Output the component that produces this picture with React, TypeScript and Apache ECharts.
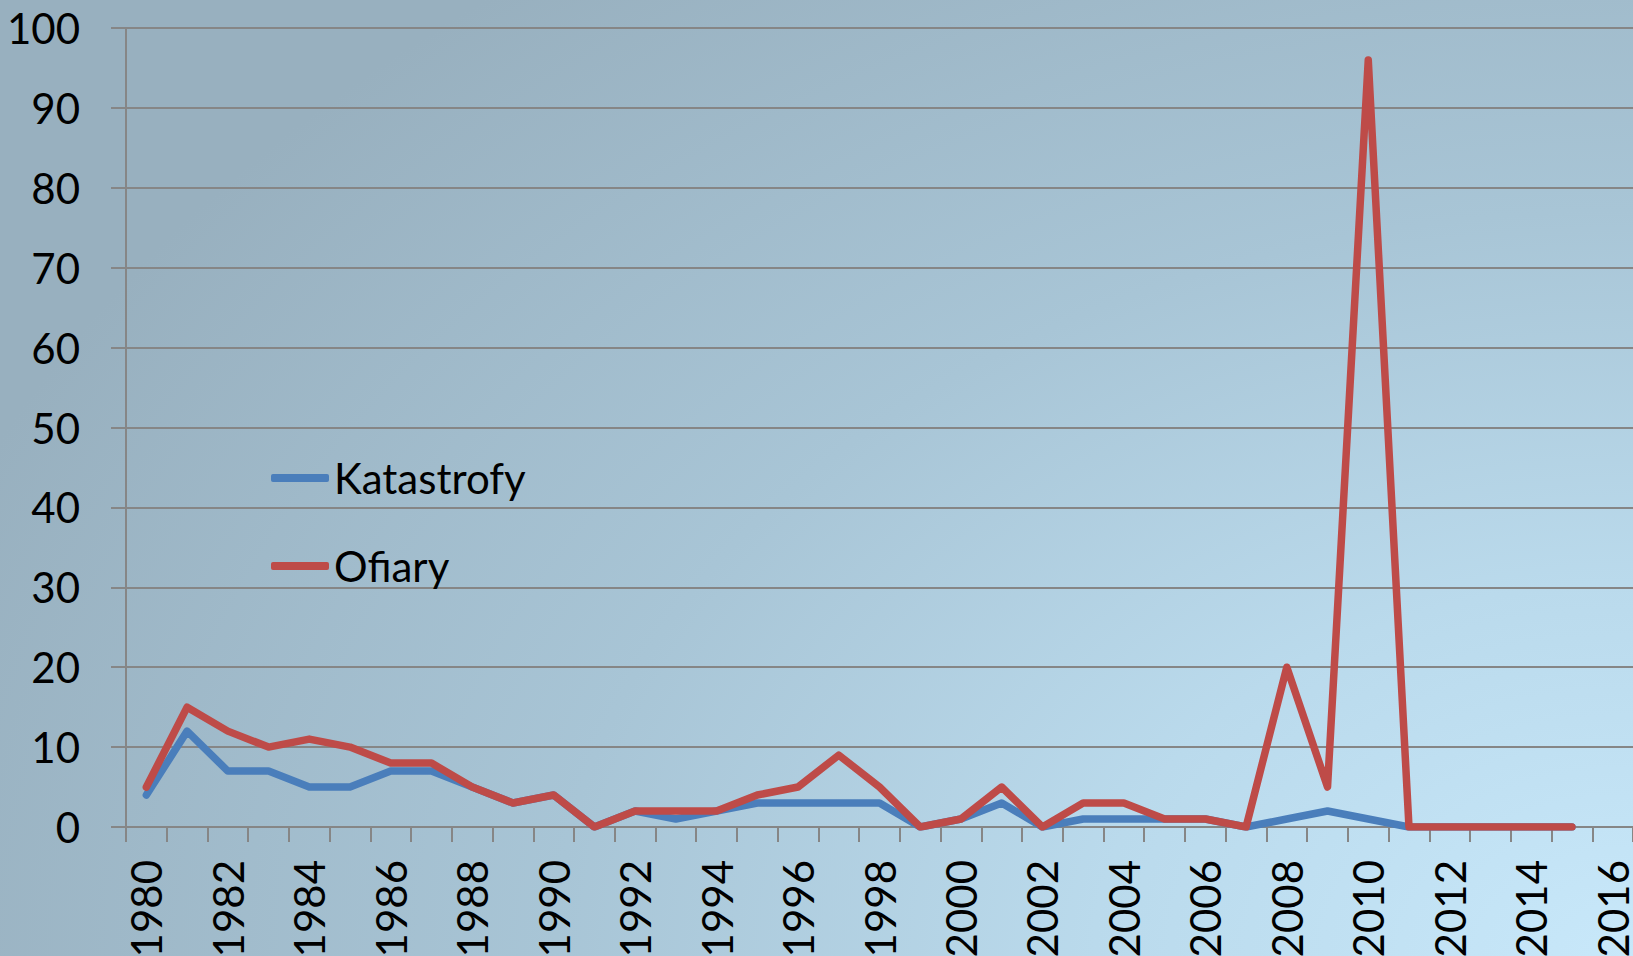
import React, { useEffect, useRef } from "react";
import * as echarts from "echarts";

const years: string[] = [
  "1980","1981","1982","1983","1984","1985","1986","1987","1988","1989",
  "1990","1991","1992","1993","1994","1995","1996","1997","1998","1999",
  "2000","2001","2002","2003","2004","2005","2006","2007","2008","2009",
  "2010","2011","2012","2013","2014","2015","2016",
];

const katastrofy: (number | null)[] = [
  4, 12, 7, 7, 5, 5, 7, 7, 5, 3,
  4, 0, 2, 1, 2, 3, 3, 3, 3, 0,
  1, 3, 0, 1, 1, 1, 1, 0, 1, 2,
  1, 0, 0, 0, 0, 0, null,
];

const ofiary: (number | null)[] = [
  5, 15, 12, 10, 11, 10, 8, 8, 5, 3,
  4, 0, 2, 2, 2, 4, 5, 9, 5, 0,
  1, 5, 0, 3, 3, 1, 1, 0, 20, 5,
  96, 0, 0, 0, 0, 0, null,
];

const FONT = "Lato, 'Open Sans', sans-serif";
const GRID_COLOR = "#868686";

export default function App() {
  const ref = useRef<HTMLDivElement>(null);

  useEffect(() => {
    if (!ref.current) return;
    const chart = echarts.init(ref.current, undefined, { renderer: "svg" });
    chart.setOption({
      animation: false,
      backgroundColor: "transparent",
      grid: {
        left: 126,
        top: 28,
        right: 0,
        bottom: 129,
        containLabel: false,
        outerBoundsMode: "none",
      },
      legend: {
        orient: "vertical",
        left: 266,
        top: 449,
        itemWidth: 58,
        itemHeight: 8,
        itemGap: 40,
        icon: "roundRect",
        textStyle: { fontFamily: FONT, fontSize: 42, color: "#000", lineHeight: 48 },
        data: ["Katastrofy", "Ofiary"],
      },
      xAxis: {
        type: "category",
        data: years,
        boundaryGap: true,
        axisLine: { show: true, lineStyle: { color: GRID_COLOR, width: 2 } },
        axisTick: { show: true, interval: 0, length: 15, lineStyle: { color: GRID_COLOR, width: 2 } },
        axisLabel: {
          interval: 1,
          rotate: 90,
          margin: 33,
          fontFamily: FONT,
          fontSize: 42,
          color: "#000",
        },
        splitLine: { show: false },
      },
      yAxis: {
        type: "value",
        min: 0,
        max: 100,
        interval: 10,
        axisLine: { show: true, lineStyle: { color: GRID_COLOR, width: 2 } },
        axisTick: { show: true, length: 15, lineStyle: { color: GRID_COLOR, width: 2 } },
        axisLabel: { margin: 46, fontFamily: FONT, fontSize: 42, color: "#000" },
        splitLine: { show: true, lineStyle: { color: GRID_COLOR, width: 2 } },
      },
      series: [
        {
          name: "Katastrofy",
          type: "line",
          data: katastrofy,
          showSymbol: false,
          symbol: "none",
          color: "#4a7ebb",
          lineStyle: { width: 7.5, color: "#4a7ebb", cap: "round", join: "round" },
        },
        {
          name: "Ofiary",
          type: "line",
          data: ofiary,
          showSymbol: false,
          symbol: "none",
          color: "#be4b48",
          lineStyle: { width: 7.5, color: "#be4b48", cap: "round", join: "round" },
        },
      ],
    });
    return () => chart.dispose();
  }, []);

  return (
    <div
      style={{
        position: "absolute",
        left: 0,
        top: 0,
        width: 1633,
        height: 956,
        background:
          "radial-gradient(ellipse 110% 130% at 100% 100%, #c8e8fa 0%, #badaec 30%, #a8c5d6 60%, #98b0bf 100%)",
      }}
    >
      <div ref={ref} style={{ width: 1633, height: 956 }} />
    </div>
  );
}
